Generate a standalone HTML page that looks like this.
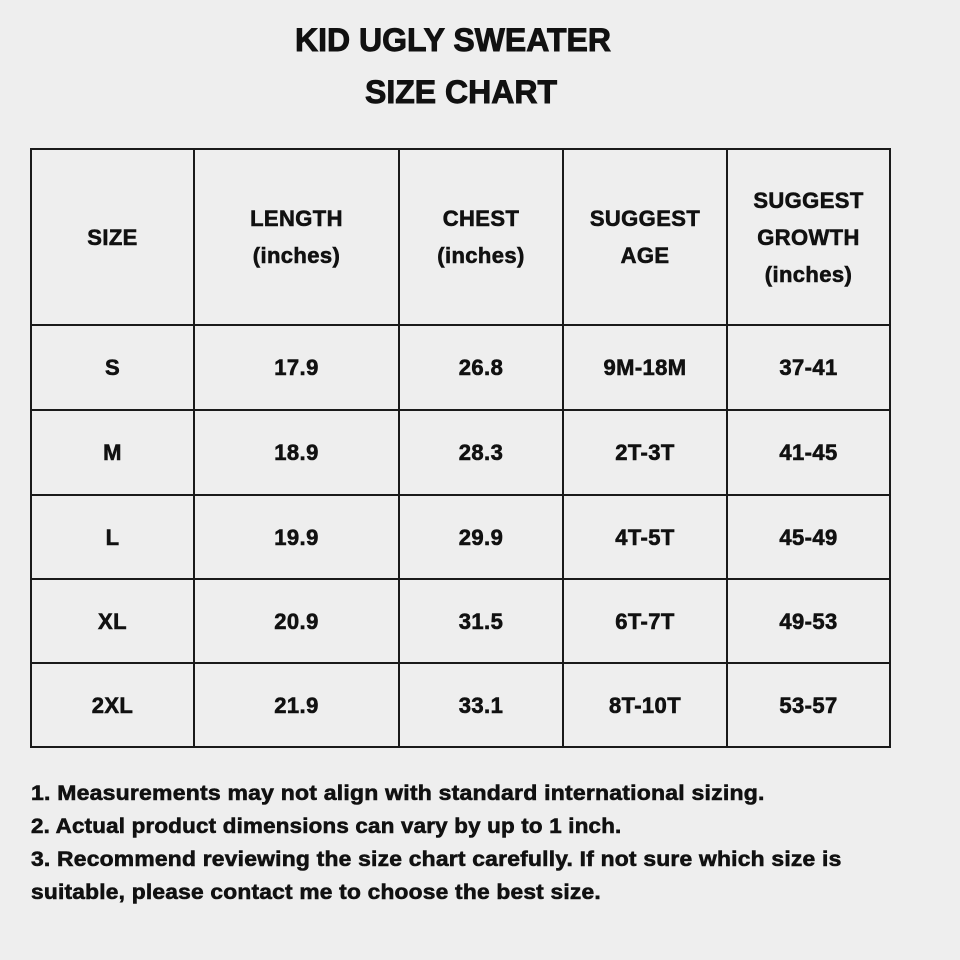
<!DOCTYPE html>
<html>
<head>
<meta charset="utf-8">
<style>
  html,body{margin:0;padding:0;}
  body{width:960px;height:960px;background:#eeeeee;position:relative;overflow:hidden;
       font-family:"Liberation Sans",Arial,sans-serif;font-weight:bold;color:#111;}
  .t{position:absolute;white-space:nowrap;font-size:32px;line-height:32px;transform:translateX(-50%);
     -webkit-text-stroke:0.9px #111;}
  .vl{position:absolute;width:2px;background:#1a1a1a;top:148px;height:600px;}
  .hl{position:absolute;height:2px;background:#1a1a1a;left:30px;width:861px;}
  .c{position:absolute;display:flex;align-items:center;justify-content:center;text-align:center;
     font-size:22px;line-height:37px;letter-spacing:0.4px;-webkit-text-stroke:0.6px #111;}
  .n{position:absolute;left:31px;font-size:21px;line-height:33px;white-space:nowrap;
     transform-origin:0 50%;-webkit-text-stroke:0.6px #111;letter-spacing:0.2px;}
</style>
</head>
<body>
  <div class="t" style="left:453px;top:24px;">KID UGLY SWEATER</div>
  <div class="t" style="left:461px;top:76px;">SIZE CHART</div>

  <!-- grid lines -->
  <div class="vl" style="left:30px;"></div>
  <div class="vl" style="left:193px;"></div>
  <div class="vl" style="left:398px;"></div>
  <div class="vl" style="left:562px;"></div>
  <div class="vl" style="left:726px;"></div>
  <div class="vl" style="left:889px;"></div>

  <div class="hl" style="top:148px;"></div>
  <div class="hl" style="top:324px;"></div>
  <div class="hl" style="top:409px;"></div>
  <div class="hl" style="top:494px;"></div>
  <div class="hl" style="top:578px;"></div>
  <div class="hl" style="top:662px;"></div>
  <div class="hl" style="top:746px;"></div>

  <!-- header row -->
  <div class="c" style="left:31px;top:149px;width:163px;height:176px;">SIZE</div>
  <div class="c" style="left:194px;top:149px;width:205px;height:176px;">LENGTH<br>(inches)</div>
  <div class="c" style="left:399px;top:149px;width:164px;height:176px;">CHEST<br>(inches)</div>
  <div class="c" style="left:563px;top:149px;width:164px;height:176px;">SUGGEST<br>AGE</div>
  <div class="c" style="left:727px;top:149px;width:163px;height:176px;">SUGGEST<br>GROWTH<br>(inches)</div>

  <!-- S -->
  <div class="c" style="left:31px;top:325px;width:163px;height:85px;">S</div>
  <div class="c" style="left:194px;top:325px;width:205px;height:85px;">17.9</div>
  <div class="c" style="left:399px;top:325px;width:164px;height:85px;">26.8</div>
  <div class="c" style="left:563px;top:325px;width:164px;height:85px;">9M-18M</div>
  <div class="c" style="left:727px;top:325px;width:163px;height:85px;">37-41</div>

  <!-- M -->
  <div class="c" style="left:31px;top:410px;width:163px;height:85px;">M</div>
  <div class="c" style="left:194px;top:410px;width:205px;height:85px;">18.9</div>
  <div class="c" style="left:399px;top:410px;width:164px;height:85px;">28.3</div>
  <div class="c" style="left:563px;top:410px;width:164px;height:85px;">2T-3T</div>
  <div class="c" style="left:727px;top:410px;width:163px;height:85px;">41-45</div>

  <!-- L -->
  <div class="c" style="left:31px;top:495px;width:163px;height:84px;">L</div>
  <div class="c" style="left:194px;top:495px;width:205px;height:84px;">19.9</div>
  <div class="c" style="left:399px;top:495px;width:164px;height:84px;">29.9</div>
  <div class="c" style="left:563px;top:495px;width:164px;height:84px;">4T-5T</div>
  <div class="c" style="left:727px;top:495px;width:163px;height:84px;">45-49</div>

  <!-- XL -->
  <div class="c" style="left:31px;top:579px;width:163px;height:84px;">XL</div>
  <div class="c" style="left:194px;top:579px;width:205px;height:84px;">20.9</div>
  <div class="c" style="left:399px;top:579px;width:164px;height:84px;">31.5</div>
  <div class="c" style="left:563px;top:579px;width:164px;height:84px;">6T-7T</div>
  <div class="c" style="left:727px;top:579px;width:163px;height:84px;">49-53</div>

  <!-- 2XL -->
  <div class="c" style="left:31px;top:663px;width:163px;height:84px;">2XL</div>
  <div class="c" style="left:194px;top:663px;width:205px;height:84px;">21.9</div>
  <div class="c" style="left:399px;top:663px;width:164px;height:84px;">33.1</div>
  <div class="c" style="left:563px;top:663px;width:164px;height:84px;">8T-10T</div>
  <div class="c" style="left:727px;top:663px;width:163px;height:84px;">53-57</div>

  <!-- notes -->
  <div class="n" style="top:777px;transform:scaleX(1.095);">1. Measurements may not align with standard international sizing.</div>
  <div class="n" style="top:810px;transform:scaleX(1.064);">2. Actual product dimensions can vary by up to 1 inch.</div>
  <div class="n" style="top:843px;transform:scaleX(1.088);">3. Recommend reviewing the size chart carefully. If not sure which size is</div>
  <div class="n" style="top:876px;transform:scaleX(1.083);">suitable, please contact me to choose the best size.</div>
</body>
</html>
